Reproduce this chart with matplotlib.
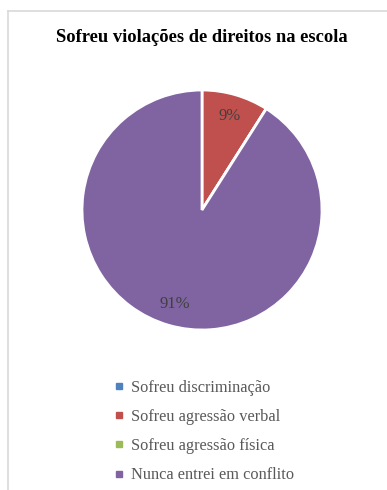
import matplotlib
matplotlib.use("Agg")
import matplotlib.pyplot as plt
from matplotlib.lines import Line2D

categories = ["Sofreu discriminação", "Sofreu agressão verbal",
              "Sofreu agressão física", "Nunca entrei em conflito"]
values = [0, 9, 0, 91]
colors = ["#4F81BD", "#C0504D", "#9BBB59", "#8064A2"]
title = "Sofreu violações de direitos na escola"

W, H = 387, 490
fig = plt.figure(figsize=(W / 100, H / 100), dpi=100)
fig.patch.set_facecolor("white")

# chart-area frame (left and top edges)
fig.add_artist(Line2D([8 / W, 8 / W], [0, 1 - 11 / H], transform=fig.transFigure,
                      color="#d9d9d9", lw=1.2))
fig.add_artist(Line2D([8 / W, 1], [1 - 11 / H, 1 - 11 / H], transform=fig.transFigure,
                      color="#d9d9d9", lw=1.2))

fig.text(202 / W, 1 - 37 / H, title, ha="center", va="center",
         fontsize=13.3, fontweight="bold", family="Liberation Serif", color="black")

cx, cy, r = 202, 210, 120
ax = fig.add_axes([(cx - r) / W, 1 - (cy + r) / H, 2 * r / W, 2 * r / H])
wedges, texts, autotexts = ax.pie(
    values, colors=colors, startangle=90, counterclock=False,
    autopct=lambda p: f"{p:.0f}%" if p > 0 else "", pctdistance=0.82,
    wedgeprops=dict(edgecolor="white", linewidth=2),
    textprops=dict(family="Liberation Serif", fontsize=12, color="#404040"))
ax.set_xlim(-1, 1)
ax.set_ylim(-1, 1)
ax.set_aspect("equal")
ax.axis("off")

handles = [Line2D([], [], marker="s", linestyle="", markersize=4.5,
                  markerfacecolor=c, markeredgecolor=c) for c in colors]
fig.legend(handles, categories, loc="upper left",
           bbox_to_anchor=(108 / W, 1 - 373 / H), frameon=False,
           prop=dict(family="Liberation Serif", size=11.8),
           labelcolor="#595959", handlelength=0.6, handletextpad=0.4,
           labelspacing=0.81, borderaxespad=0)

fig.savefig("out.png", dpi=100, facecolor="white")
